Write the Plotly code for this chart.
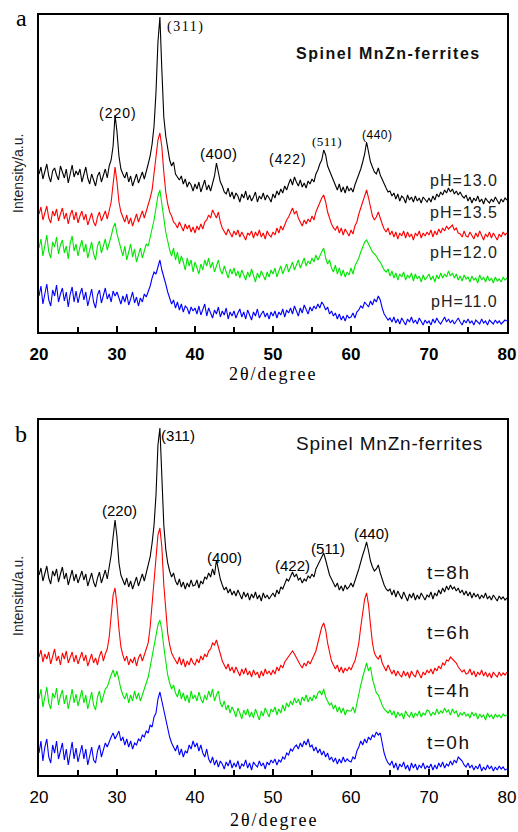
import plotly.graph_objects as go

W, H = 518, 832

two_theta = [20 + 0.25 * i for i in range(241)]

# ---- Panel a: pH series (arbitrary intensity units) ----
ph130 = [
    158,165,153,162,168,156,150,161,164,157,152,166,160,154,163,149,158,167,155,161,
    157,163,150,159,165,154,148,158,152,146,156,160,150,157,163,154,166,172,186,217,
    200,176,163,158,154,160,150,156,146,152,158,149,155,160,153,162,168,176,188,206,
    240,290,315,262,215,196,183,172,166,170,158,155,152,156,148,153,145,150,147,141,
    148,143,150,140,146,152,142,147,141,149,156,169,158,150,146,140,138,144,135,140,
    133,139,136,130,138,134,141,132,137,131,135,140,130,136,133,139,132,137,134,130,
    138,134,141,137,143,139,146,142,148,153,147,155,150,146,152,145,149,144,151,148,
    153,150,158,162,168,172,182,177,166,161,157,150,146,142,148,140,145,139,146,141,
    144,140,147,152,158,163,170,178,190,180,170,165,160,158,164,157,152,148,144,140,
    141,136,139,133,138,131,136,134,129,137,132,135,130,136,131,134,129,135,132,130,
    134,130,136,132,138,135,140,137,142,139,144,140,143,138,141,137,140,136,134,137,
    131,135,129,134,131,136,130,133,128,134,131,129,133,130,135,131,128,133,130,134,
    132]
ph135 = [
    118,125,112,120,126,114,109,121,116,123,111,118,124,113,119,108,117,122,112,120,
    109,116,121,112,118,107,113,119,110,106,115,120,111,117,121,113,122,130,148,165,
    150,130,120,114,110,117,108,114,106,112,118,110,115,121,114,120,126,134,142,158,
    175,192,199,185,160,140,128,120,116,110,108,104,110,106,101,108,103,107,100,105,
    99,106,102,108,103,110,112,117,114,122,118,114,120,110,104,100,97,103,99,95,
    101,97,102,95,100,96,92,99,97,101,94,100,96,102,95,99,93,101,97,95,
    100,97,104,99,106,102,108,112,115,119,124,118,121,114,110,106,112,108,113,110,
    116,112,120,125,130,134,137,130,120,113,108,104,102,106,99,104,97,103,100,96,
    102,98,106,110,118,124,130,136,142,134,124,116,112,115,120,113,108,103,100,104,
    97,101,95,100,93,99,96,101,94,100,95,98,92,99,96,101,94,99,96,100,
    97,102,95,101,97,103,99,104,101,106,103,105,107,102,104,99,98,95,101,96,
    95,100,97,93,99,95,101,96,92,98,95,100,94,99,96,92,98,95,100,97,
    99]
ph120 = [
    84,93,76,88,97,80,74,90,85,95,78,87,92,79,86,73,89,96,81,88,
    76,85,92,80,88,74,83,90,78,72,86,91,79,85,93,82,88,96,104,109,
    98,90,82,76,86,72,80,88,75,83,70,78,84,74,82,88,86,94,102,112,
    124,136,142,130,114,100,90,82,76,84,72,80,68,76,70,62,74,66,72,60,
    70,64,58,68,62,72,66,74,64,70,60,66,72,62,58,66,60,54,63,58,
    64,56,61,54,62,57,52,60,55,63,56,50,59,54,61,57,52,60,55,62,
    58,64,55,61,66,58,63,68,60,65,70,62,67,72,64,69,74,66,71,68,
    74,70,77,72,76,80,84,74,68,72,64,60,67,58,64,56,62,55,60,57,
    64,58,66,70,74,80,86,90,92,88,84,80,78,76,72,70,66,62,60,63,
    56,61,54,59,52,58,55,60,52,57,54,59,51,58,53,56,50,57,52,55,
    58,52,56,50,57,53,59,54,58,55,61,56,59,54,58,52,56,51,57,53,
    55,50,56,52,54,49,57,52,55,50,56,51,54,49,55,51,53,50,55,52,
    54]
ph110 = [
    36,46,28,40,48,32,26,42,36,47,30,38,44,31,40,25,38,45,30,41,
    29,38,44,32,40,26,35,43,30,24,37,42,29,36,44,33,38,30,41,36,
    40,34,28,36,30,38,27,33,40,29,35,26,34,30,38,35,40,46,54,60,
    58,66,72,62,56,48,40,34,28,32,24,30,22,28,20,26,24,18,25,21,
    24,18,26,17,22,28,16,24,19,14,22,18,25,15,21,17,24,13,20,16,
    21,14,19,23,15,20,13,22,17,12,20,16,23,14,18,21,15,19,13,20,
    16,21,14,20,17,23,15,22,19,24,18,26,21,16,24,19,27,22,18,25,
    21,26,23,28,24,30,27,22,25,18,21,16,19,13,18,12,16,11,17,14,
    15,19,14,20,22,26,24,30,28,25,31,27,33,30,36,32,24,18,15,12,
    14,10,15,9,13,8,14,11,7,13,10,15,9,12,8,14,10,7,12,9,
    11,7,13,9,14,10,8,12,15,10,13,9,12,8,11,14,10,7,12,9,
    13,9,11,7,12,10,8,13,9,11,7,12,10,8,12,9,11,8,10,12,
    11]

# ---- Panel b: reaction time series ----
t8h = [
    200,207,194,203,209,197,191,204,199,206,193,201,208,196,202,190,199,205,194,201,
    192,199,204,195,201,189,196,202,193,188,197,203,192,199,205,196,208,220,238,255,
    238,212,200,194,190,197,188,194,186,192,198,189,195,201,194,202,210,218,232,250,
    280,330,347,300,250,226,212,204,198,202,194,190,196,188,193,186,192,188,195,189,
    190,195,187,194,191,198,196,202,198,206,200,215,204,196,190,185,188,182,186,180,
    184,179,185,181,176,183,178,182,175,181,177,183,176,180,174,182,177,180,176,179,
    182,178,185,181,188,186,192,196,194,199,203,198,201,195,197,192,196,194,199,197,
    201,198,206,210,214,218,222,215,206,200,196,191,188,192,185,189,184,190,186,188,
    192,188,195,200,206,214,220,226,233,224,214,208,204,206,210,202,195,190,186,184,
    186,180,185,178,184,180,176,183,179,174,181,177,182,175,180,176,182,178,175,180,
    178,183,176,182,179,185,181,187,183,189,185,190,186,188,184,187,182,185,180,184,
    179,183,177,182,178,181,176,180,177,182,176,179,175,180,177,174,179,176,178,175,
    177]
t6h = [
    118,125,113,121,116,123,111,120,126,114,119,110,122,116,124,112,118,123,113,120,
    111,118,123,114,120,109,116,121,112,117,110,119,124,114,121,126,138,160,180,187,
    170,146,128,120,114,119,110,116,112,118,109,117,121,114,120,126,132,148,170,200,
    215,240,247,228,190,162,142,130,122,118,115,111,118,110,116,108,114,110,117,112,
    110,116,112,119,115,121,118,124,126,132,130,135,128,120,114,110,106,111,104,108,
    102,108,104,99,106,101,107,100,104,98,105,100,103,97,104,99,106,101,104,100,
    105,101,108,104,110,107,113,116,119,122,124,121,117,113,110,107,112,109,114,111,
    115,119,124,132,140,148,152,145,132,122,114,110,106,110,103,108,102,107,104,108,
    105,110,114,122,132,148,165,176,182,170,150,132,122,118,116,120,112,108,104,110,
    106,101,105,99,104,100,98,104,99,103,97,104,100,98,105,101,97,103,100,105,
    102,106,101,107,104,109,106,112,110,115,114,118,116,114,112,108,106,103,105,101,
    102,106,100,104,98,103,100,105,99,103,98,102,97,103,100,98,103,99,102,100,
    103]
t4h = [
    76,86,68,80,88,72,66,82,77,87,70,79,85,71,80,66,78,86,72,81,
    69,78,85,72,80,66,75,83,70,65,78,84,72,78,86,88,95,100,105,98,
    104,94,86,80,76,82,72,80,74,84,76,82,74,80,86,90,98,108,118,130,
    140,150,155,145,128,112,100,92,86,90,82,78,86,76,82,74,80,72,84,76,
    80,74,83,76,72,80,75,84,78,86,74,80,84,72,68,74,65,70,62,68,
    64,58,67,62,56,65,60,66,58,63,57,66,61,55,64,59,67,62,58,66,
    63,68,60,66,62,70,64,72,68,74,70,77,72,76,70,78,74,80,73,78,
    74,80,76,82,84,80,86,78,74,70,72,66,70,63,68,62,67,60,65,64,
    64,68,62,72,80,90,98,106,112,104,108,96,90,82,80,74,70,66,64,62,
    65,60,64,57,63,59,62,56,64,60,58,63,57,62,59,64,58,62,60,65,
    64,59,63,60,66,61,64,62,67,63,65,60,66,62,64,58,62,60,63,59,
    61,57,63,59,62,56,61,58,60,55,62,58,60,56,61,58,60,57,61,59,
    60]
t0h = [
    22,34,14,28,36,18,12,30,22,34,16,25,32,15,26,10,24,33,16,27,
    13,22,30,16,26,10,20,28,15,12,24,30,18,26,32,28,34,38,42,36,
    40,44,34,38,30,36,28,34,26,32,30,36,34,40,38,44,42,50,48,58,
    62,76,83,74,64,56,46,38,32,28,24,30,20,26,18,24,22,30,26,34,
    28,32,24,30,22,18,26,16,12,18,10,15,8,14,11,6,13,9,15,7,
    12,8,14,6,11,9,15,7,12,5,13,10,8,14,9,12,6,13,10,15,
    12,16,10,15,13,18,16,22,20,26,24,28,30,26,32,28,34,30,36,28,
    30,24,28,22,26,20,24,18,22,15,18,13,17,11,16,12,18,13,16,14,
    13,18,16,24,28,34,30,36,32,38,35,40,38,43,40,42,30,22,16,12,
    10,14,7,12,5,11,8,13,6,10,4,12,7,11,5,10,7,12,6,9,
    7,11,5,10,6,12,8,13,7,11,9,14,10,15,12,18,16,14,10,8,
    12,7,10,5,9,6,11,4,8,5,10,6,9,4,8,5,9,6,8,5,
    6]

labels_a = ["pH=13.0", "pH=13.5", "pH=12.0", "pH=11.0"]
labels_b = ["t=8h", "t=6h", "t=4h", "t=0h"]
peak_labels = ["(220)", "(311)", "(400)", "(422)", "(511)", "(440)"]
colors = ["#000000", "#ff0000", "#00e600", "#0000ff"]

for s in (ph130, ph135, ph120, ph110, t8h, t6h, t4h, t0h):
    assert len(s) == len(two_theta), len(s)


def px(x):
    return x / W


def py(y):
    return 1 - y / H


def spaced(text, sp):
    return '<span style="letter-spacing:%spx">%s</span>' % (sp, text)


fig = go.Figure()
for name, vals, col in zip(labels_a, [ph130, ph135, ph120, ph110], colors):
    fig.add_trace(go.Scatter(x=two_theta, y=vals, mode="lines", name=name,
                             line=dict(color=col, width=1.1), xaxis="x", yaxis="y"))
for name, vals, col in zip(labels_b, [t8h, t6h, t4h, t0h], colors):
    fig.add_trace(go.Scatter(x=two_theta, y=vals, mode="lines", name=name,
                             line=dict(color=col, width=1.1), xaxis="x2", yaxis="y2"))

xdom = [px(39), px(507)]
common_x = dict(range=[20, 80], dtick=10, showline=True, mirror=True, linecolor="black",
                linewidth=2, ticks="inside", ticklen=6, tickwidth=2, tickcolor="black",
                showgrid=False, zeroline=False, ticklabelstandoff=6, automargin=False,
                minor=dict(ticks="inside", ticklen=5, tickwidth=2, dtick=5, tickcolor="black"))
common_y = dict(showline=True, mirror=True, linecolor="black", linewidth=2, showticklabels=False,
                ticks="", showgrid=False, zeroline=False, automargin=False)

fig.update_layout(
    template="none",
    width=W, height=H, margin=dict(l=0, r=0, t=0, b=0, pad=0, autoexpand=False),
    paper_bgcolor="white", plot_bgcolor="white", showlegend=False,
    font=dict(family="Liberation Sans", color="black"),
    xaxis=dict(domain=xdom, anchor="y",
               tickfont=dict(family="Liberation Sans", size=17, color="black", weight="bold"),
               **common_x),
    yaxis=dict(domain=[py(332), py(15)], range=[0, 317], anchor="x", **common_y),
    xaxis2=dict(domain=xdom, anchor="y2",
                tickfont=dict(family="Liberation Sans", size=17, color="black"), **common_x),
    yaxis2=dict(domain=[py(775), py(420)], range=[0, 355], anchor="x2", **common_y),
)

ann = []
ann.append(dict(text="a", x=px(21), y=py(18), font=dict(family="Liberation Serif", size=24)))
ann.append(dict(text="b", x=px(21), y=py(434), font=dict(family="Liberation Serif", size=24)))
ann.append(dict(text=spaced("2θ/degree", 2), x=px(273), y=py(374),
                font=dict(family="Liberation Serif", size=18)))
ann.append(dict(text=spaced("2θ/degree", 2), x=px(274), y=py(820),
                font=dict(family="Liberation Serif", size=18)))
ann.append(dict(text="Intensity/a.u.", x=px(18), y=py(174), textangle=-90,
                font=dict(family="Liberation Sans", size=14, color="#222")))
ann.append(dict(text="Intensitu/a.u.", x=px(18), y=py(596), textangle=-90,
                font=dict(family="Liberation Sans", size=14, color="#222")))
ann.append(dict(text=spaced("Spinel MnZn-ferrites", 1.5), x=px(388), y=py(53),
                font=dict(family="Liberation Sans", size=16, weight="bold", color="#111")))
ann.append(dict(text=spaced("Spinel MnZn-ferrites", 0.8), x=px(389), y=py(443),
                font=dict(family="Liberation Sans", size=19, color="#111")))

for name, yy in zip(labels_a, [180, 212, 252, 302]):
    ann.append(dict(text=spaced(name, 1), x=px(500), y=py(yy), xanchor="right",
                    font=dict(family="Liberation Sans", size=16, color="#222")))
for name, yy in zip(labels_b, [572, 632, 690, 742]):
    ann.append(dict(text=spaced(name, 1.5), x=px(449), y=py(yy),
                    font=dict(family="Liberation Sans", size=19, color="#111")))

pa_pos = [(118, 113), (185, 27), (219, 153), (288, 159), (327, 142), (377, 135)]
pa_fonts = ["Liberation Sans", "Liberation Serif", "Liberation Sans", "Liberation Sans",
            "Liberation Serif", "Liberation Sans"]
pa_sizes = [14, 14, 15, 14, 13, 12]
pa_sp = [1, 1.5, 0.5, 1, 0.5, 0.5]
for lab, (xx, yy), fam, sz, sp in zip(peak_labels, pa_pos, pa_fonts, pa_sizes, pa_sp):
    ann.append(dict(text=spaced(lab, sp), x=px(xx), y=py(yy),
                    font=dict(family=fam, size=sz, color="black")))
pb_pos = [(119, 510), (178, 435), (224, 557), (292, 565), (328, 548), (371, 533)]
for lab, (xx, yy) in zip(peak_labels, pb_pos):
    ann.append(dict(text=lab, x=px(xx), y=py(yy),
                    font=dict(family="Liberation Sans", size=15, color="black")))

for a in ann:
    a.update(xref="paper", yref="paper", showarrow=False, xanchor=a.get("xanchor", "center"),
             yanchor="middle")
fig.update_layout(annotations=ann)

fig.write_html("out.html", config={"displayModeBar": False},
               post_script="document.body.style.margin='0';document.body.style.overflow='hidden';")
